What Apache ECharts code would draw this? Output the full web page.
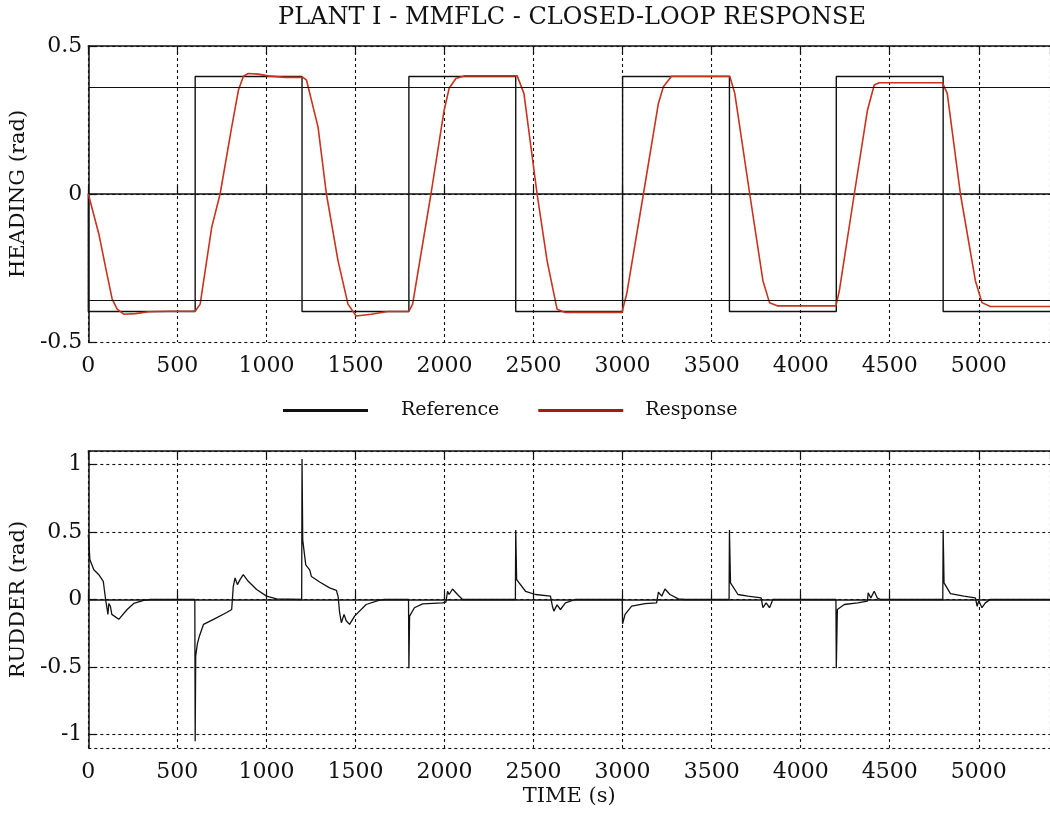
<!DOCTYPE html>
<html>
<head>
<meta charset="utf-8">
<script src="https://cdn.jsdelivr.net/npm/echarts@6/dist/echarts.min.js"></script>
<style>
html,body{margin:0;padding:0;background:#fff;}
#chart{width:1050px;height:819px;}
</style>
</head>
<body>
<div id="chart"></div>
<script>
// ---------- DATA ----------
const titleText = 'PLANT I - MMFLC - CLOSED-LOOP RESPONSE';
const xTickMin = 0, xTickMax = 5400, xTickStep = 500;

// Reference heading (square wave, step at each time)
const refTime  = [0, 0, 600, 1200, 1800, 2400, 3000, 3600, 4200, 4800, 5400];
const refValue = [0, -0.397, 0.397, -0.397, 0.397, -0.397, 0.397, -0.397, 0.397, -0.397, -0.397];

// Horizontal bound lines in heading plot
const boundValues = [0.356, -0.356];

// Response heading
const responseTime = [0, 59, 97, 134, 162, 199, 265, 339, 450, 600,
  628, 693, 740, 805, 843, 871, 898, 954, 1010, 1103,
  1206, 1225, 1290, 1337, 1402, 1458, 1504, 1588, 1681, 1800,
  1821, 1924, 1998, 2026, 2064, 2110, 2408, 2446, 2520, 2576,
  2632, 2679, 2996, 3023, 3117, 3201, 3229, 3275, 3602, 3630,
  3714, 3788, 3825, 3872, 4198, 4217, 4301, 4375, 4413, 4441,
  4795, 4823, 4897, 4981, 5018, 5065, 5400];
const responseValue = [0, -0.135, -0.248, -0.355, -0.389, -0.406, -0.404, -0.398, -0.396, -0.396,
  -0.372, -0.112, 0, 0.226, 0.351, 0.398, 0.407, 0.405, 0.399, 0.394,
  0.394, 0.385, 0.226, 0, -0.225, -0.372, -0.412, -0.406, -0.397, -0.397,
  -0.372, 0, 0.283, 0.357, 0.39, 0.399, 0.399, 0.34, 0, -0.225,
  -0.389, -0.4, -0.4, -0.338, 0, 0.306, 0.362, 0.398, 0.398, 0.34,
  0, -0.293, -0.367, -0.378, -0.378, -0.327, 0, 0.283, 0.368, 0.376,
  0.376, 0.34, 0, -0.293, -0.367, -0.38, -0.38];

// Rudder
const rudderTime = [0, 9, 31, 59, 84, 97, 106, 110, 115, 124, 132, 143, 171, 218, 255, 311, 350,
  598, 600, 603, 612, 624, 647, 703, 777, 805, 814, 824, 837, 852, 870, 898, 945, 1001, 1057,
  1198, 1200, 1204, 1221, 1243, 1253, 1299, 1355, 1393, 1403, 1411, 1421, 1436, 1448, 1467, 1495, 1560, 1635, 1663,
  1798, 1800, 1804, 1831, 1877, 1989, 2008, 2017, 2026, 2045, 2073, 2101,
  2398, 2400, 2405, 2455, 2511, 2595, 2606, 2614, 2632, 2651, 2679, 2735,
  2998, 3000, 3014, 3051, 3126, 3191, 3201, 3220, 3238, 3266, 3313, 3350,
  3598, 3600, 3606, 3648, 3704, 3778, 3788, 3806, 3825, 3844,
  4198, 4200, 4206, 4245, 4320, 4375, 4379, 4394, 4413, 4431, 4450,
  4798, 4800, 4805, 4841, 4916, 4981, 4991, 5000, 5018, 5037, 5065, 5400];
const rudderValue = [0.48, 0.294, 0.22, 0.184, 0.135, 0, -0.074, -0.11, -0.03, -0.05, -0.11, -0.1, -0.147, -0.074, -0.029, -0.007, 0,
  0, -1.05, -0.42, -0.33, -0.27, -0.184, -0.147, -0.096, -0.074, 0.098, 0.16, 0.11, 0.147, 0.184, 0.135, 0.074, 0.025, 0.005,
  0, 1.04, 0.44, 0.257, 0.22, 0.17, 0.13, 0.086, 0.068, 0.02, -0.098, -0.172, -0.11, -0.157, -0.184, -0.123, -0.037, -0.005, 0,
  0, -0.51, -0.123, -0.061, -0.032, -0.025, -0.02, 0.061, 0.037, 0.078, 0.037, 0,
  0, 0.515, 0.147, 0.061, 0.037, 0.025, -0.05, -0.086, -0.04, -0.074, -0.025, 0,
  0, -0.18, -0.11, -0.049, -0.03, -0.025, 0.054, 0.025, 0.078, 0.037, 0.005, 0,
  0, 0.515, 0.123, 0.037, 0.025, 0.012, -0.061, -0.025, -0.061, 0,
  0, -0.51, -0.074, -0.037, -0.025, -0.012, 0.049, 0.012, 0.061, 0.01, 0,
  0, 0.515, 0.123, 0.044, 0.025, 0.012, -0.05, -0.01, -0.061, -0.025, 0, 0];

// ---------- CHART ----------
const pair = (xs, ys) => xs.map((x, i) => [x, ys[i]]);
const FONT = 'DejaVu Serif';
const INK = '#111';
const gridDash = { color: '#111', type: [3, 3], width: 1.1 };
const plain = v => String(v);

function xAxisMain(gi) {
  return {
    type: 'value', gridIndex: gi, position: 'bottom', min: xTickMin, max: xTickMax, interval: xTickStep,
    axisLine: { show: true, lineStyle: { color: INK, width: 1.5 } },
    axisTick: { show: true, inside: true, length: 8, lineStyle: { color: INK, width: 1.2 } },
    axisLabel: { show: true, margin: 13, fontFamily: FONT, fontSize: 22, color: INK, showMaxLabel: false, formatter: plain },
    splitLine: { show: true, lineStyle: gridDash }
  };
}
function xAxisTop(gi) {
  return {
    type: 'value', gridIndex: gi, position: 'top', min: xTickMin, max: xTickMax, interval: xTickStep,
    axisLine: { show: true, lineStyle: { color: INK, width: 1.5 } },
    axisTick: { show: true, inside: true, length: 8, lineStyle: { color: INK, width: 1.2 } },
    axisLabel: { show: false }, splitLine: { show: false }
  };
}

const chart = echarts.init(document.getElementById('chart'), null, { renderer: 'canvas' });
chart.setOption({
  backgroundColor: '#fff',
  animation: false,
  title: {
    text: titleText, left: 567, top: 1, textAlign: 'center',
    textStyle: { fontFamily: FONT, fontSize: 24, fontWeight: 'normal', color: INK }
  },
  legend: {
    left: 283, top: 401, padding: 0, itemGap: 39, icon: 'rect', itemWidth: 85, itemHeight: 3,
    textStyle: { fontFamily: FONT, fontSize: 19, color: INK },
    data: [
      { name: 'Reference', textStyle: { padding: [0, 0, 0, 28] } },
      { name: 'Response', itemStyle: { color: '#a01c14' }, textStyle: { padding: [0, 0, 0, 17] } }
    ]
  },
  grid: [
    { left: 88, top: 46, width: 965, height: 296, show: false },
    { left: 88, top: 451, width: 965, height: 297, show: false }
  ],
  xAxis: [
    xAxisMain(0),
    Object.assign(xAxisMain(1), { name: 'TIME (s)', nameLocation: 'middle', nameGap: 38,
      nameTextStyle: { fontFamily: FONT, fontSize: 21, color: INK } }),
    xAxisTop(0), xAxisTop(1)
  ],
  yAxis: [
    {
      type: 'value', gridIndex: 0, min: -0.5, max: 0.5, interval: 0.5,
      name: 'HEADING (rad)', nameLocation: 'middle', nameGap: 54,
      nameTextStyle: { fontFamily: FONT, fontSize: 21, color: INK },
      axisLine: { show: true, lineStyle: { color: INK, width: 1.5 } },
      axisTick: { show: true, inside: true, length: 8, lineStyle: { color: INK, width: 1.2 } },
      axisLabel: { margin: 6, fontFamily: FONT, fontSize: 22, color: INK, formatter: plain },
      splitLine: { show: true, lineStyle: gridDash }
    },
    {
      type: 'value', gridIndex: 1, min: -1.1, max: 1.1, splitNumber: 5,
      name: 'RUDDER (rad)', nameLocation: 'middle', nameGap: 54,
      nameTextStyle: { fontFamily: FONT, fontSize: 21, color: INK },
      axisLine: { show: true, lineStyle: { color: INK, width: 1.5 } },
      axisTick: { show: true, inside: true, length: 8, lineStyle: { color: INK, width: 1.2 } },
      axisLabel: { margin: 6, fontFamily: FONT, fontSize: 22, color: INK, showMinLabel: false, showMaxLabel: false, formatter: plain },
      splitLine: { show: true, lineStyle: gridDash }
    }
  ],
  series: [
    {
      name: 'Reference', type: 'line', xAxisIndex: 0, yAxisIndex: 0, step: 'end',
      data: pair(refTime, refValue), showSymbol: false, symbol: 'none',
      lineStyle: { color: INK, width: 1.4 }, itemStyle: { color: INK },
      markLine: {
        silent: true, symbol: 'none', label: { show: false },
        lineStyle: { color: INK, type: 'solid', width: 1.2 },
        data: boundValues.map(v => ({ yAxis: v }))
      }
    },
    {
      name: 'Response', type: 'line', xAxisIndex: 0, yAxisIndex: 0,
      data: pair(responseTime, responseValue), showSymbol: false, symbol: 'none',
      lineStyle: { color: '#c8321e', width: 1.6 }, itemStyle: { color: '#c8321e' }
    },
    {
      name: 'Rudder', type: 'line', xAxisIndex: 1, yAxisIndex: 1,
      data: pair(rudderTime, rudderValue), showSymbol: false, symbol: 'none',
      lineStyle: { color: INK, width: 1.3 }, itemStyle: { color: INK }
    }
  ]
});
</script>
</body>
</html>
